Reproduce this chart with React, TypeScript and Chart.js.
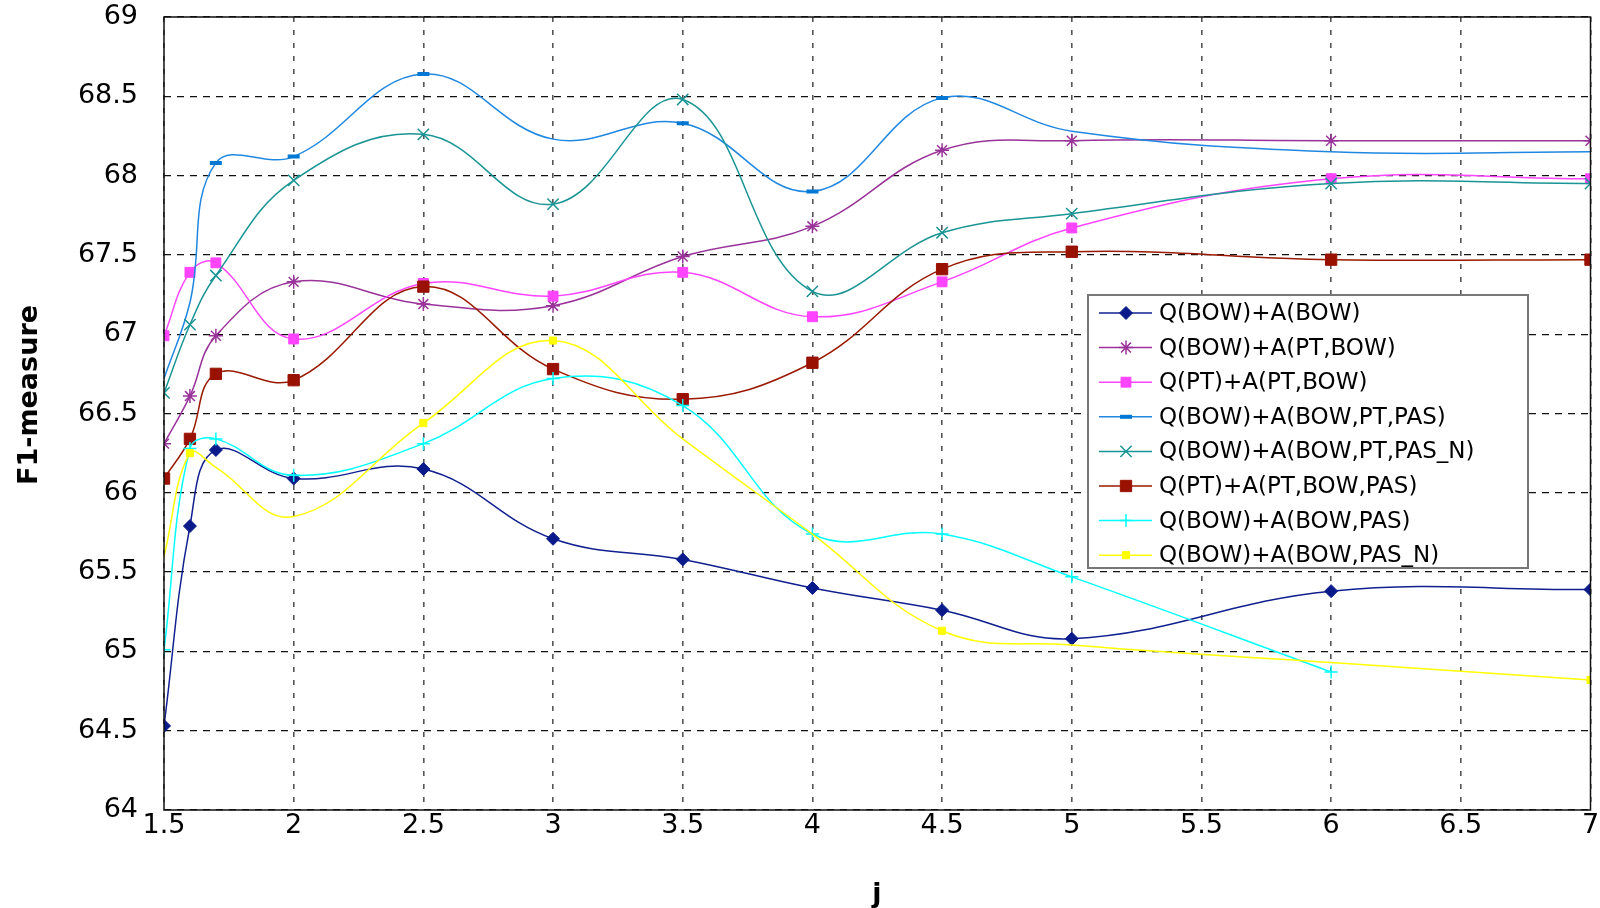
import React, { useEffect, useRef } from "react";
import { Chart, registerables } from "chart.js";
import { drawPoint } from "chart.js/helpers";

Chart.register(...registerables);

// ---------- data ----------
const xValues = [1.5, 1.6, 1.7, 2, 2.5, 3, 3.5, 4, 4.5, 5, 6, 7];
const xTickLabels = ["1.5", "2", "2.5", "3", "3.5", "4", "4.5", "5", "5.5", "6", "6.5", "7"];
const yTickLabels = ["64", "64.5", "65", "65.5", "66", "66.5", "67", "67.5", "68", "68.5", "69"];

const seriesNames = [
  "Q(BOW)+A(BOW)",
  "Q(BOW)+A(PT,BOW)",
  "Q(PT)+A(PT,BOW)",
  "Q(BOW)+A(BOW,PT,PAS)",
  "Q(BOW)+A(BOW,PT,PAS_N)",
  "Q(PT)+A(PT,BOW,PAS)",
  "Q(BOW)+A(BOW,PAS)",
  "Q(BOW)+A(BOW,PAS_N)",
];

const qBowABow = [64.53, 65.79, 66.27, 66.09, 66.15, 65.71, 65.58, 65.4, 65.26, 65.08, 65.38, 65.39];
const qBowAPtBow = [66.31, 66.61, 66.99, 67.33, 67.19, 67.18, 67.49, 67.68, 68.16, 68.22, 68.22, 68.22];
const qPtAPtBow = [66.99, 67.39, 67.45, 66.97, 67.32, 67.24, 67.39, 67.11, 67.33, 67.67, 67.98, 67.98];
const qBowABowPtPas = [66.72, 67.2, 68.08, 68.12, 68.64, 68.23, 68.33, 67.9, 68.49, 68.28, 68.15, 68.15];
const qBowABowPtPasN = [66.63, 67.06, 67.37, 67.97, 68.26, 67.82, 68.48, 67.27, 67.64, 67.76, 67.95, 67.95];
const qPtAPtBowPas = [66.09, 66.34, 66.75, 66.71, 67.3, 66.78, 66.59, 66.82, 67.41, 67.52, 67.47, 67.47];
const qBowABowPas = [65.01, 66.28, 66.34, 66.11, 66.31, 66.72, 66.55, 65.74, 65.74, 65.47, 64.87, null];
const qBowABowPasN = [65.6, 66.25, 66.16, 65.85, 66.44, 66.96, 66.34, 65.74, 65.13, 65.04, 64.93, 64.82];

const seriesValues = [
  qBowABow,
  qBowAPtBow,
  qPtAPtBow,
  qBowABowPtPas,
  qBowABowPtPasN,
  qPtAPtBowPas,
  qBowABowPas,
  qBowABowPasN,
];

// ---------- styles ----------
type Style = {
  line: string;
  marker: string;
  pointStyle: any;
  radius: number;
  pointBorderWidth: number;
  hiddenMarkers?: number[];
};

const styles: Style[] = [
  { line: "#10208f", marker: "#0a1a8a", pointStyle: "rectRot", radius: 6.5, pointBorderWidth: 1 },
  { line: "#993399", marker: "#993399", pointStyle: "star", radius: 7, pointBorderWidth: 1.5 },
  { line: "#ff44ff", marker: "#ff44ff", pointStyle: "rect", radius: 7, pointBorderWidth: 1 },
  { line: "#2088e0", marker: "#0078d4", pointStyle: "line", radius: 6, pointBorderWidth: 4, hiddenMarkers: [0, 1, 5, 9, 10, 11] },
  { line: "#1a9494", marker: "#1a9494", pointStyle: "crossRot", radius: 8, pointBorderWidth: 1.5 },
  { line: "#991a00", marker: "#991100", pointStyle: "rect", radius: 8, pointBorderWidth: 1 },
  { line: "#00ffff", marker: "#00ffff", pointStyle: "cross", radius: 6.5, pointBorderWidth: 1.5 },
  { line: "#ffff00", marker: "#ffff00", pointStyle: "rect", radius: 5, pointBorderWidth: 1, hiddenMarkers: [0, 2, 3, 6, 7, 9, 10] },
];

const TICK_FONT = { family: "'DejaVu Sans', Verdana, sans-serif", size: 27 };

const zeroPadding = (scale: any) => {
  scale.paddingTop = 0;
  scale.paddingBottom = 0;
  scale.paddingLeft = 0;
  scale.paddingRight = 0;
};

const App: React.FC = () => {
  const canvasRef = useRef<HTMLCanvasElement | null>(null);

  useEffect(() => {
    const canvas = canvasRef.current;
    if (!canvas) return;

    const datasets = seriesValues.map((vals, i) => {
      const s = styles[i];
      const hidden = s.hiddenMarkers || [];
      return {
        label: seriesNames[i],
        data: xValues.map((x, j) => ({ x, y: vals[j] })),
        borderColor: s.line,
        backgroundColor: s.marker,
        borderWidth: 1.5,
        tension: 0.4,
        pointStyle: s.pointStyle,
        pointRadius: (ctx: any) => (hidden.includes(ctx.dataIndex) ? 0 : s.radius),
        pointBorderColor: s.marker,
        pointBackgroundColor: s.marker,
        pointBorderWidth: s.pointBorderWidth,
        spanGaps: false,
        order: seriesValues.length - i,
      };
    });

    const framePlugin = {
      id: "frameAndLegend",
      afterDatasetsDraw(chart: any) {
        const { ctx, chartArea } = chart;
        ctx.save();
        // frame
        ctx.strokeStyle = "#111";
        ctx.lineWidth = 1.5;
        ctx.setLineDash([]);
        ctx.strokeRect(chartArea.left, chartArea.top, chartArea.right - chartArea.left, chartArea.bottom - chartArea.top);

        // legend
        const bx = 1088, by = 295, bw = 440, bh = 273;
        ctx.fillStyle = "#ffffff";
        ctx.fillRect(bx, by, bw, bh);
        ctx.strokeStyle = "#777";
        ctx.lineWidth = 2;
        ctx.strokeRect(bx, by, bw, bh);
        ctx.font = "23px 'DejaVu Sans', Verdana, sans-serif";
        ctx.textBaseline = "middle";
        ctx.textAlign = "left";
        seriesNames.forEach((name, i) => {
          const s = styles[i];
          const y = 313 + i * 34.6;
          ctx.strokeStyle = s.line;
          ctx.lineWidth = 1.5;
          ctx.beginPath();
          ctx.moveTo(1099, y);
          ctx.lineTo(1152, y);
          ctx.stroke();
          ctx.fillStyle = s.marker;
          ctx.strokeStyle = s.marker;
          ctx.lineWidth = s.pointBorderWidth;
          drawPoint(ctx, { pointStyle: s.pointStyle, radius: s.radius, rotation: 0, borderWidth: s.pointBorderWidth }, 1126, y);
          ctx.fillStyle = "#000";
          ctx.fillText(name, 1159, y + 1);
        });

        // axis titles
        ctx.fillStyle = "#000";
        ctx.font = "bold 27px 'DejaVu Sans', Verdana, sans-serif";
        ctx.textAlign = "center";
        ctx.textBaseline = "middle";
        ctx.fillText("j", 877, 895);
        ctx.translate(30, 395);
        ctx.rotate(-Math.PI / 2);
        ctx.fillText("F1-measure", 0, 0);
        ctx.restore();
      },
    };

    const chart = new Chart(canvas, {
      type: "line",
      data: { datasets: datasets as any },
      options: {
        responsive: false,
        animation: false,
        devicePixelRatio: 1,
        layout: { padding: { left: 0, top: 17, right: 9, bottom: 0 } },
        plugins: { legend: { display: false }, tooltip: { enabled: false }, title: { display: false } },
        scales: {
          x: {
            type: "linear",
            min: 1.5,
            max: 7,
            afterBuildTicks: (scale: any) => {
              scale.ticks = xTickLabels.map((t) => ({ value: parseFloat(t) }));
            },
            ticks: {
              color: "#000",
              font: TICK_FONT,
              padding: 0,
              autoSkip: false,
              maxRotation: 0,
              callback: (v: any) => String(v),
            },
            grid: { color: "#555", lineWidth: 1.6, drawTicks: false },
            border: { display: false, dash: [5, 8] },
            afterFit: (scale: any) => {
              scale.height = 98;
              zeroPadding(scale);
            },
          },
          y: {
            type: "linear",
            min: 64,
            max: 69,
            afterBuildTicks: (scale: any) => {
              scale.ticks = yTickLabels.map((t) => ({ value: parseFloat(t) }));
            },
            ticks: {
              color: "#000",
              font: TICK_FONT,
              padding: 26,
              callback: (v: any) => String(v),
            },
            grid: { color: "#111", lineWidth: 1.2, drawTicks: false },
            border: { display: false, dash: [7, 6] },
            afterFit: (scale: any) => {
              scale.width = 164;
              zeroPadding(scale);
            },
          },
        },
      },
      plugins: [framePlugin],
    });

    return () => chart.destroy();
  }, []);

  return (
    <div style={{ position: "absolute", left: 0, top: 0, width: 1600, height: 908, background: "#fff" }}>
      <canvas ref={canvasRef} width={1600} height={908} style={{ width: 1600, height: 908, display: "block" }} />
    </div>
  );
};

export default App;
